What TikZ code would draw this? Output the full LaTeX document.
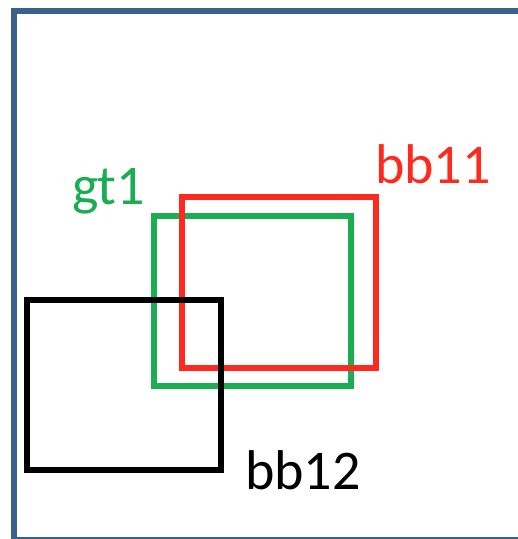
\documentclass[tikz,border=0pt]{standalone}
\usepackage{fontspec}
\setmainfont{Carlito}
\definecolor{framecol}{HTML}{3A5F8C}
\definecolor{redbox}{HTML}{FF2A1F}
\definecolor{greenbox}{HTML}{1AAD52}
\tikzset{
  bbox/.style={draw, line width=6pt, rectangle, inner sep=0pt, outer sep=0pt, fill=none},
  lbl/.style={anchor=base west, inner sep=0pt, outer sep=0pt, font=\fontsize{56}{66}\selectfont}
}
\begin{document}
\begin{tikzpicture}[x=1pt,y=1pt]
\useasboundingbox (0,0) rectangle (518,539);
\fill[white] (0,0) rectangle (518,539);
% outer frame (extends past the right and bottom edges)
\node[draw=framecol, line width=5.5pt, rectangle, inner sep=0pt, minimum width=520pt, minimum height=529pt, anchor=north west] (frame) at (11,530.5) {};
% boxes
\node[bbox, draw=greenbox, minimum width=197pt, minimum height=170.5pt] (gt1box) at (252.5,237.75) {};
\node[bbox, draw=redbox, minimum width=193.5pt, minimum height=171pt] (bb11box) at (278.75,256.5) {};
\node[bbox, draw=black, minimum width=193.5pt, minimum height=170.3pt] (bb12box) at (123.75,154.15) {};
% labels
\node[lbl, text=greenbox] (gt1) at (72,334) {gt1};
\node[lbl, text=redbox] (bb11) at (375,355) {bb11};
\node[lbl, text=black] (bb12) at (245,49) {bb12};
\end{tikzpicture}
\end{document}
